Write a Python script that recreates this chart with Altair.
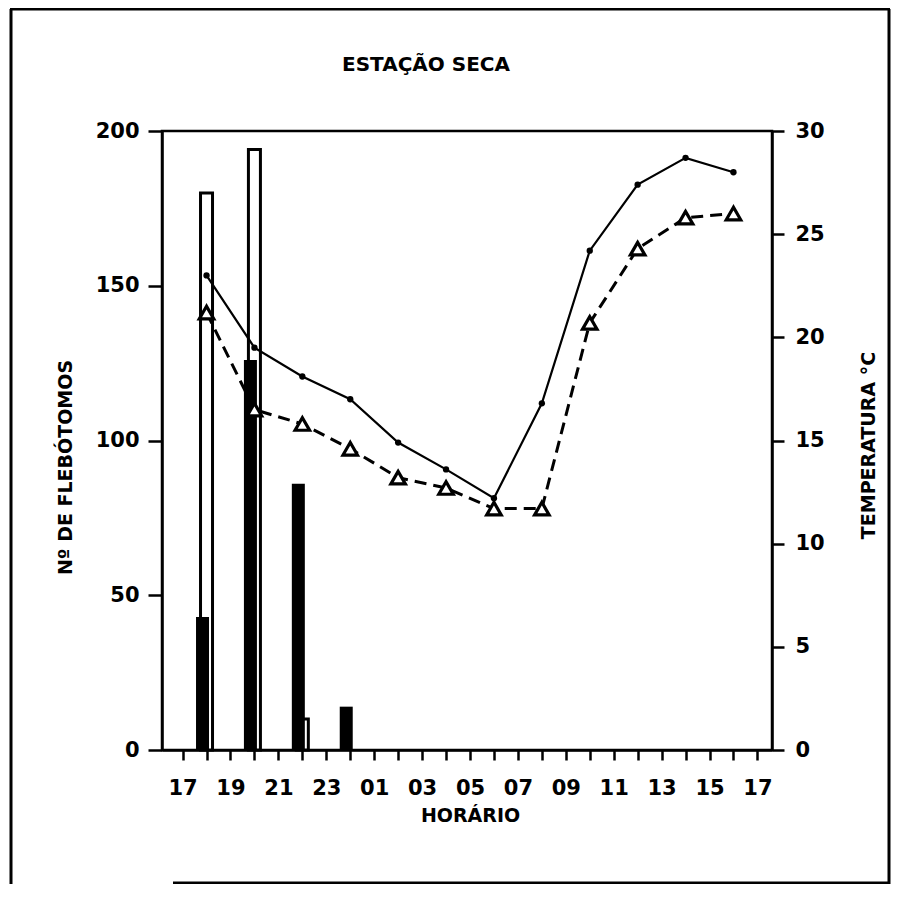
import altair as alt
import pandas as pd

# ---- data ----
bar_hours = [18, 20, 22, 24]
open_counts = [180, 194, 10, 0]      # open (white) bars
filled_counts = [43, 126, 86, 14]    # filled (black) bars

temp_hours = [18, 20, 22, 24, 26, 28, 30, 32, 34, 36, 38, 40]
temp_solid = [23.0, 19.5, 18.1, 17.0, 14.9, 13.6, 12.2, 16.8, 24.2, 27.4, 28.7, 28.0]
temp_dashed = [21.2, 16.5, 15.8, 14.6, 13.2, 12.7, 11.7, 11.7, 20.7, 24.3, 25.8, 26.0]

x_ticks = list(range(17, 42))
left_ticks = [0, 50, 100, 150, 200]
right_ticks = [0, 5, 10, 15, 20, 25, 30]

chart_title = "ESTAÇÃO SECA"
x_title = "HORÁRIO"
left_title = "Nº DE FLEBÓTOMOS"
right_title = "TEMPERATURA °C"

W, H = 610, 619
FONT = "DejaVu Sans"

bars = pd.DataFrame({"hora": bar_hours, "aberta": open_counts, "cheia": filled_counts})
temps = pd.DataFrame({"hora": temp_hours, "solid": temp_solid, "dashed": temp_dashed})

x_scale = alt.Scale(domain=[16.35, 41.4], nice=False, zero=False)
x_axis = alt.Axis(
    values=x_ticks, tickSize=10, labelPadding=17, labelFontSize=21, labelFontWeight="bold",
    labelOverlap=False, labelFlush=False,
    labelExpr="datum.value % 2 == 1 ? ((datum.value % 24) < 10 ? '0' + (datum.value % 24) : '' + (datum.value % 24)) : ''",
    title=x_title, titleFontSize=19, titleX=308, titleY=65,
    titleBaseline="middle", titleAlign="center", titleFontWeight="bold",
)
x_enc = alt.X("hora:Q", scale=x_scale, axis=x_axis)

left_scale = alt.Scale(domain=[0, 200], nice=False, zero=True)
left_axis = alt.Axis(
    orient="left", values=left_ticks, tickSize=14, labelPadding=9, labelFontSize=21,
    labelFontWeight="bold",
    title=left_title, titleFontSize=19, titleAngle=270, titleX=-97, titleY=336,
    titleBaseline="middle", titleAlign="center", titleFontWeight="bold",
)

right_scale = alt.Scale(domain=[0, 30], nice=False, zero=True)
right_axis = alt.Axis(
    orient="right", values=right_ticks, tickSize=12, labelPadding=11, labelFontSize=21,
    labelFontWeight="bold",
    title=right_title, titleFontSize=19, titleAngle=270, titleX=96, titleY=314,
    titleBaseline="middle", titleAlign="center", titleFontWeight="bold",
)

base_b = alt.Chart(bars)
open_bars = base_b.mark_bar(size=12, fill="white", stroke="black", strokeWidth=3).encode(
    x=x_enc,
    y=alt.Y("aberta:Q", scale=left_scale, axis=left_axis),
).transform_filter("datum.aberta > 0")
filled_bars = base_b.mark_bar(size=13, xOffset=-4, fill="black").encode(
    x=x_enc,
    y=alt.Y("cheia:Q", scale=left_scale, axis=left_axis),
)
bar_layer = alt.layer(open_bars, filled_bars)

base_t = alt.Chart(temps)
solid_line = base_t.mark_line(color="black", strokeWidth=2.2).encode(
    x=x_enc, y=alt.Y("solid:Q", scale=right_scale, axis=right_axis)
)
solid_pts = base_t.mark_point(shape="circle", filled=True, color="black", size=40, opacity=1).encode(
    x=x_enc, y=alt.Y("solid:Q", scale=right_scale, axis=right_axis)
)
dashed_line = base_t.mark_line(color="black", strokeWidth=3, strokeDash=[12, 7]).encode(
    x=x_enc, y=alt.Y("dashed:Q", scale=right_scale, axis=right_axis)
)
dashed_pts = base_t.mark_point(shape="triangle-up", filled=True, fill="white", stroke="black",
                               strokeWidth=3.2, size=210, opacity=1).encode(
    x=x_enc, y=alt.Y("dashed:Q", scale=right_scale, axis=right_axis)
)
temp_layer = alt.layer(solid_line, dashed_line, solid_pts, dashed_pts)

# decorations: figure frame and heading
one = pd.DataFrame({"t": [chart_title]})
frame_left = alt.Chart(one).mark_rule(color="black", strokeWidth=3).encode(
    x=alt.value(-151), y=alt.value(-122), y2=alt.value(753))
frame_top = alt.Chart(one).mark_rule(color="black", strokeWidth=3).encode(
    x=alt.value(-152), x2=alt.value(728), y=alt.value(-122))
frame_right = alt.Chart(one).mark_rule(color="black", strokeWidth=3).encode(
    x=alt.value(727), y=alt.value(-122), y2=alt.value(753))
frame_bottom = alt.Chart(one).mark_rule(color="black", strokeWidth=3).encode(
    x=alt.value(11), x2=alt.value(728), y=alt.value(752))
heading = alt.Chart(one).mark_text(font=FONT, fontSize=20, fontWeight="bold", color="black",
                                   align="center", baseline="middle").encode(
    text="t:N", x=alt.value(264), y=alt.value(-66))

chart = alt.layer(
    bar_layer, temp_layer, frame_left, frame_top, frame_right, frame_bottom, heading
).resolve_scale(y="independent").properties(
    width=W, height=H,
    autosize=alt.AutoSizeParams(type="none"),
    padding={"left": 154, "top": 123, "right": 119, "bottom": 134},
    background="white",
).configure_view(
    stroke="black", strokeWidth=2.5
).configure_axis(
    grid=False, domainColor="black", domainWidth=2.5, tickColor="black", tickWidth=2.5,
    labelColor="black", titleColor="black", labelFont=FONT, titleFont=FONT,
)

chart.save("out.html", embed_options={"renderer": "svg", "actions": False})
